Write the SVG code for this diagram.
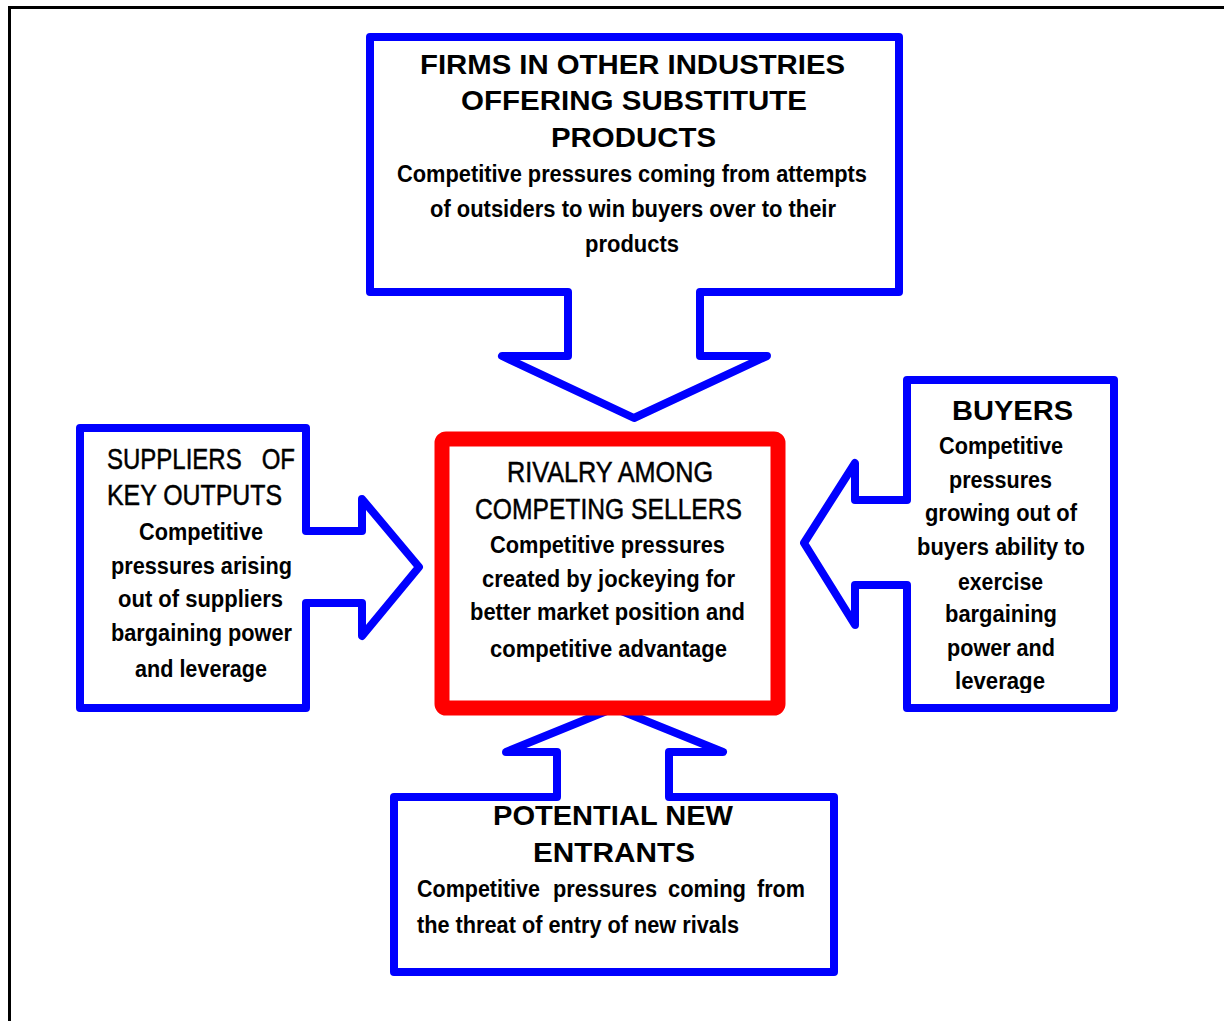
<svg xmlns="http://www.w3.org/2000/svg" width="1224" height="1021" viewBox="0 0 1224 1021">
<defs>
<style>
.frame{fill:none;stroke:#000;stroke-width:3}
.call{fill:#fff;stroke:#0000FF;stroke-width:8;stroke-linejoin:round}
.core{fill:#fff;stroke:#FF0000;stroke-width:15;stroke-linejoin:round}
.hb{font-family:"Liberation Sans",Arial,sans-serif;font-weight:bold;font-size:27px;fill:#000}
.hn{font-family:"Liberation Sans Narrow","Liberation Sans",Arial,sans-serif;font-size:30px;fill:#000;stroke:#000;stroke-width:0.5}
.b{font-family:"Liberation Sans Narrow","Liberation Sans",Arial,sans-serif;font-weight:bold;font-size:23px;fill:#000}
</style>
<clipPath id="clipBuyers"><rect x="910" y="384" width="200" height="309"/></clipPath>
</defs>
<rect width="1224" height="1021" fill="#fff"/>
<path class="frame" d="M9.5,1021 V7.5 H1224"/>

<g id="connectors">
</g>

<g id="substitutes">
<path class="call" d="M370,37 H899 V292 H700 V356 H767 L634,418 L502,356 H568 V292 H370 Z"/>
<text class="hb" x="420" y="74" textLength="425" lengthAdjust="spacingAndGlyphs">FIRMS IN OTHER INDUSTRIES</text>
<text class="hb" x="461" y="110" textLength="346" lengthAdjust="spacingAndGlyphs">OFFERING SUBSTITUTE</text>
<text class="hb" x="551" y="147" textLength="165" lengthAdjust="spacingAndGlyphs">PRODUCTS</text>
<text class="b" x="397" y="182" textLength="470" lengthAdjust="spacingAndGlyphs">Competitive pressures coming from attempts</text>
<text class="b" x="430" y="217" textLength="406" lengthAdjust="spacingAndGlyphs">of outsiders to win buyers over to their</text>
<text class="b" x="585" y="252" textLength="94" lengthAdjust="spacingAndGlyphs">products</text>
</g>

<g id="suppliers">
<path class="call" d="M80,428 H306 V531 H362 V499 L419,567 L362,636 V603 H306 V708 H80 Z"/>
<text class="hn" x="107" y="469" textLength="188" lengthAdjust="spacingAndGlyphs" xml:space="preserve" style="white-space:pre">SUPPLIERS   OF</text>
<text class="hn" x="107" y="505" textLength="175" lengthAdjust="spacingAndGlyphs">KEY OUTPUTS</text>
<text class="b" x="139" y="540" textLength="124" lengthAdjust="spacingAndGlyphs">Competitive</text>
<text class="b" x="111" y="574" textLength="181" lengthAdjust="spacingAndGlyphs">pressures arising</text>
<text class="b" x="118" y="607" textLength="165" lengthAdjust="spacingAndGlyphs">out of suppliers</text>
<text class="b" x="111" y="641" textLength="181" lengthAdjust="spacingAndGlyphs">bargaining power</text>
<text class="b" x="135" y="677" textLength="132" lengthAdjust="spacingAndGlyphs">and leverage</text>
</g>

<g id="buyers">
<path class="call" d="M907,380 H1114 V708 H907 V585 H855 V625 L804,543 L855,463 V500 H907 Z"/>
<text class="hb" x="952" y="420" textLength="121" lengthAdjust="spacingAndGlyphs">BUYERS</text>
<g clip-path="url(#clipBuyers)">
<text class="b" x="939" y="454" textLength="124" lengthAdjust="spacingAndGlyphs">Competitive</text>
<text class="b" x="949" y="488" textLength="103" lengthAdjust="spacingAndGlyphs">pressures</text>
<text class="b" x="925" y="521" textLength="152" lengthAdjust="spacingAndGlyphs">growing out of</text>
<text class="b" x="917" y="555" textLength="168" lengthAdjust="spacingAndGlyphs">buyers ability to</text>
<text class="b" x="958" y="590" textLength="85" lengthAdjust="spacingAndGlyphs">exercise</text>
<text class="b" x="945" y="622" textLength="112" lengthAdjust="spacingAndGlyphs">bargaining</text>
<text class="b" x="947" y="656" textLength="108" lengthAdjust="spacingAndGlyphs">power and</text>
<text class="b" x="955" y="689" textLength="90" lengthAdjust="spacingAndGlyphs">leverage</text>
</g>
</g>

<g id="new-entrants">
<path class="call" d="M394,797 H557 V752 H506 L614,708 L723,752 H669 V797 H834 V972 H394 Z"/>
<text class="hb" x="493" y="825" textLength="240" lengthAdjust="spacingAndGlyphs">POTENTIAL NEW</text>
<text class="hb" x="533" y="862" textLength="162" lengthAdjust="spacingAndGlyphs">ENTRANTS</text>
<text class="b" x="417" y="897" textLength="123" lengthAdjust="spacingAndGlyphs">Competitive</text>
<text class="b" x="553" y="897" textLength="104" lengthAdjust="spacingAndGlyphs">pressures</text>
<text class="b" x="668" y="897" textLength="78" lengthAdjust="spacingAndGlyphs">coming</text>
<text class="b" x="757" y="897" textLength="48" lengthAdjust="spacingAndGlyphs">from</text>
<text class="b" x="417" y="933" textLength="322" lengthAdjust="spacingAndGlyphs">the threat of entry of new rivals</text>
</g>

<g id="rivalry">
<rect class="core" x="442" y="439" width="336" height="269" rx="4"/>
<text class="hn" x="507" y="482" textLength="206" lengthAdjust="spacingAndGlyphs">RIVALRY AMONG</text>
<text class="hn" x="475" y="519" textLength="267" lengthAdjust="spacingAndGlyphs">COMPETING SELLERS</text>
<text class="b" x="490" y="553" textLength="235" lengthAdjust="spacingAndGlyphs">Competitive pressures</text>
<text class="b" x="482" y="587" textLength="253" lengthAdjust="spacingAndGlyphs">created by jockeying for</text>
<text class="b" x="470" y="620" textLength="275" lengthAdjust="spacingAndGlyphs">better market position and</text>
<text class="b" x="490" y="657" textLength="237" lengthAdjust="spacingAndGlyphs">competitive advantage</text>
</g>
</svg>
